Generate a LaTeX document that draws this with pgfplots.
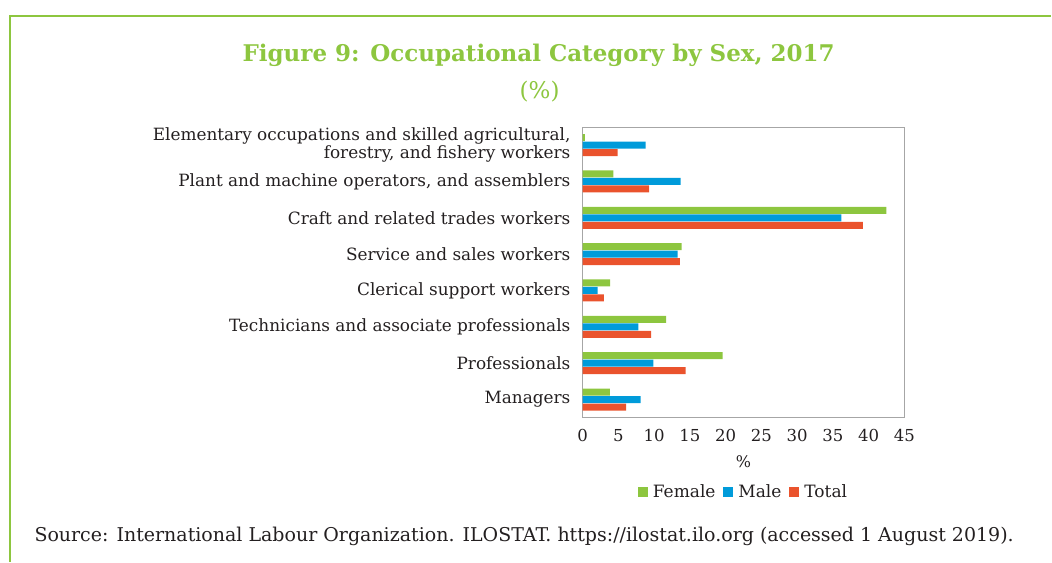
\documentclass[border=0pt]{standalone}
\usepackage{fontspec}
\setmainfont{DejaVu Serif}
\usepackage{pgfplots}
\pgfplotsset{compat=1.18}
\definecolor{fgreen}{RGB}{141,198,63}
\definecolor{mblue}{RGB}{0,155,218}
\definecolor{tred}{RGB}{234,83,45}
\definecolor{tgray}{RGB}{35,31,32}
\begin{document}
\begin{tikzpicture}[x=1pt,y=1pt]
\path (0,0) rectangle (1052,562);
\draw[fgreen, line width=1.5pt] (10,0) -- (10,546) -- (1052,546);
\node[fgreen, font=\bfseries\fontsize{23}{27}\selectfont] at (539,507) {Figure 9: Occupational Category by Sex, 2017};
\node[fgreen, font=\fontsize{23}{27}\selectfont] at (540,470) {(\%)};
\node[tgray, anchor=west, font=\fontsize{19}{22}\selectfont] at (31,25) {Source: International Labour Organization. ILOSTAT. https://ilostat.ilo.org (accessed 1 August 2019).};
\begin{axis}[
  at={(583pt,144pt)}, anchor=south west,
  scale only axis, width=322pt, height=291pt,
  xbar, bar width=7pt,
  xmin=0, xmax=45, ymin=-0.5, ymax=7.5,
  xtick={0,5,...,45},
  ytick={0,...,7},
  yticklabels={Managers,Professionals,Technicians and associate professionals,Clerical support workers,Service and sales workers,Craft and related trades workers,{Plant and machine operators, and assemblers},{Elementary occupations and skilled agricultural,\\forestry, and fishery workers}},
  yticklabel style={align=right, font=\fontsize{16.9}{17.3}\selectfont, text=tgray, inner sep=1pt, xshift=-11pt},
  xticklabel style={font=\fontsize{16.5}{18}\selectfont, text=tgray, yshift=-8pt},
  /pgf/number format/assume math mode=true,
  major tick length=0pt,
  axis line style={draw=black!35, line width=0.8pt},
  xlabel={\%}, xlabel style={font=\fontsize{16}{18}\selectfont, text=tgray, yshift=-7pt},
  legend columns=3,
  legend style={at={(0.5,-0.254)}, anchor=center, draw=none, font=\fontsize{17}{18}\selectfont, text=tgray,
    /tikz/every odd column/.append style={column sep=3pt},
    /tikz/every even column/.append style={column sep=6pt}},
  legend image code/.code={\fill[#1] (0pt,-5pt) rectangle (10pt,5pt);},
]
\addplot[fill=fgreen, draw=none, bar shift=7.5pt] coordinates {(3.8,0) (19.6,1) (11.7,2) (3.85,3) (13.85,4) (42.5,5) (4.3,6) (0.33,7)};
\addplot[fill=mblue, draw=none, bar shift=0pt] coordinates {(8.1,0) (9.9,1) (7.8,2) (2.1,3) (13.3,4) (36.2,5) (13.7,6) (8.8,7)};
\addplot[fill=tred, draw=none, bar shift=-7.5pt] coordinates {(6.1,0) (14.4,1) (9.6,2) (2.96,3) (13.6,4) (39.2,5) (9.3,6) (4.9,7)};
\legend{Female,Male,Total}
\end{axis}
\end{tikzpicture}
\end{document}
